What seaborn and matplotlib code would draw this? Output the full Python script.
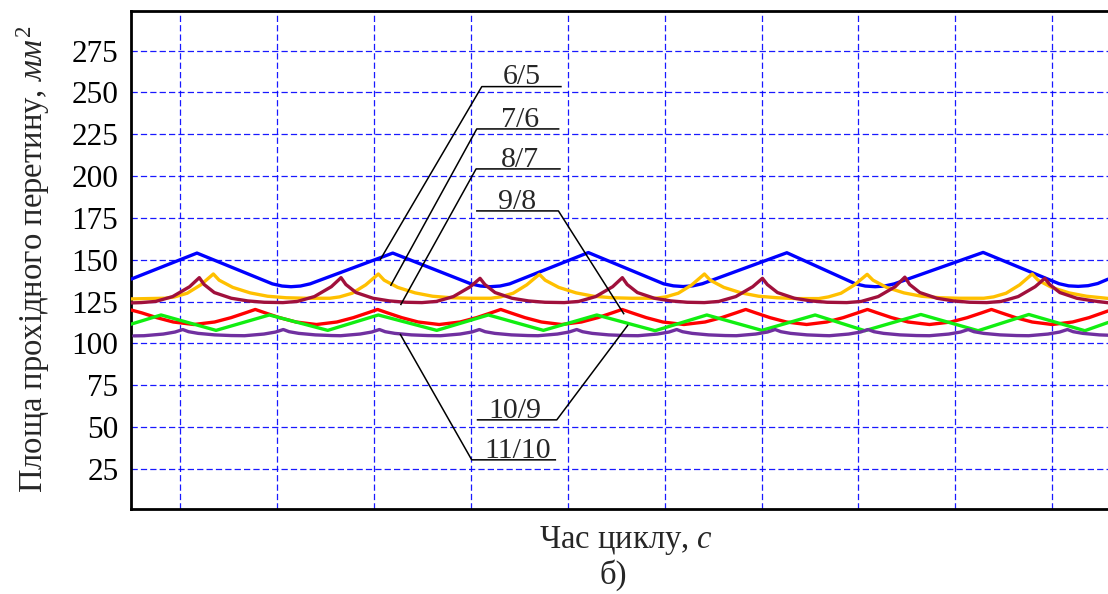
import matplotlib
matplotlib.use("Agg")
import matplotlib.pyplot as plt
import seaborn as sns
import pandas as pd

# ---------------- data ----------------
series_names = ["6/5", "7/6", "8/7", "9/8", "10/9", "11/10"]
series_colors = ["#0000FF", "#FFC000", "#A0103C", "#FF0000", "#11EE11", "#7030A0"]

t_65 = [0.491, 1.172, 1.95, 2.05, 2.143, 2.24, 2.34, 3.193, 4.0, 4.1, 4.198, 4.3, 4.4,
        5.212, 5.99, 6.09, 6.191, 6.29, 6.39, 7.261, 7.97, 8.07, 8.173, 8.27, 8.37,
        9.287, 10.07, 10.17, 10.269, 10.37, 10.47, 10.576]
v_65 = [138.4, 154.0, 135.6, 134.3, 133.9, 134.3, 135.6, 154.0, 135.6, 134.3, 133.9, 134.3, 135.6,
        154.3, 135.6, 134.4, 134.0, 134.4, 135.7, 154.2, 135.6, 134.3, 133.9, 134.3, 135.6,
        154.4, 135.7, 134.4, 134.1, 134.5, 135.8, 138.4]

t_76 = [0.491, 0.841, 0.941, 1.071, 1.211, 1.341, 1.401, 1.541, 1.721, 1.901, 2.091, 2.291,
        2.544, 2.644, 2.774, 2.914, 3.044, 3.104, 3.244, 3.424, 3.604, 3.794, 3.994,
        4.206, 4.306, 4.436, 4.576, 4.706, 4.766, 4.906, 5.086, 5.266, 5.456, 5.656,
        5.910, 6.010, 6.140, 6.280, 6.410, 6.470, 6.610, 6.790, 6.970, 7.160, 7.360,
        7.590, 7.690, 7.820, 7.960, 8.090, 8.150, 8.290, 8.470, 8.650, 8.840, 9.040,
        9.294, 9.394, 9.524, 9.664, 9.794, 9.854, 9.994, 10.174, 10.354, 10.576]
v_76 = [126.6, 127.0, 127.8, 130.0, 135.0, 141.5, 137.8, 133.5, 130.2, 128.2, 127.3, 127.0,
        127.0, 127.8, 130.0, 135.0, 141.5, 137.8, 133.5, 130.2, 128.2, 127.3, 127.0,
        127.0, 127.8, 130.0, 135.0, 141.3, 137.8, 133.5, 130.2, 128.2, 127.3, 127.0,
        127.0, 127.8, 130.0, 135.0, 141.5, 137.8, 133.5, 130.2, 128.2, 127.3, 126.8,
        126.8, 127.8, 130.0, 135.0, 141.3, 137.8, 133.5, 130.2, 128.2, 127.3, 127.0,
        127.0, 127.8, 130.0, 135.0, 141.5, 137.8, 133.5, 130.2, 128.2, 126.9]

t_87 = [0.491, 0.596, 0.746, 0.921, 1.096, 1.196, 1.246, 1.351, 1.526, 1.696, 1.866, 2.059,
        2.209, 2.384, 2.559, 2.659, 2.709, 2.814, 2.989, 3.159, 3.329, 3.494,
        3.644, 3.819, 3.994, 4.094, 4.144, 4.249, 4.424, 4.594, 4.764, 4.963,
        5.113, 5.288, 5.463, 5.563, 5.613, 5.718, 5.893, 6.063, 6.233, 6.409,
        6.559, 6.734, 6.909, 7.009, 7.059, 7.164, 7.339, 7.509, 7.679, 7.879,
        8.029, 8.204, 8.379, 8.479, 8.529, 8.634, 8.809, 8.979, 9.149, 9.324,
        9.474, 9.649, 9.824, 9.924, 9.974, 10.079, 10.254, 10.424, 10.576]
v_87 = [124.2, 124.4, 125.1, 128.0, 133.9, 139.3, 135.2, 130.4, 127.0, 125.4, 124.6, 124.4,
        125.1, 128.0, 133.9, 139.3, 135.2, 130.4, 127.0, 125.4, 124.6, 124.4,
        125.1, 128.0, 133.9, 138.9, 135.2, 130.4, 127.0, 125.4, 124.6, 124.4,
        125.1, 128.0, 133.9, 139.3, 135.2, 130.4, 127.0, 125.4, 124.6, 124.4,
        125.1, 128.0, 133.9, 138.9, 135.2, 130.4, 127.0, 125.4, 124.6, 124.4,
        125.1, 128.0, 133.9, 139.6, 135.2, 130.4, 127.0, 125.4, 124.6, 124.4,
        125.1, 128.0, 133.9, 138.9, 135.2, 130.4, 127.0, 125.4, 124.3]

t_98 = [0.491, 0.6, 0.757, 0.927, 1.14, 1.354, 1.524, 1.674, 1.774, 1.874, 2.024, 2.194, 2.405,
        2.616, 2.786, 2.936, 3.036, 3.136, 3.286, 3.456, 3.672, 3.888, 4.058, 4.208, 4.308,
        4.408, 4.558, 4.728, 4.934, 5.14, 5.31, 5.46, 5.560, 5.66, 5.81, 5.98, 6.198,
        6.417, 6.587, 6.737, 6.837, 6.937, 7.087, 7.257, 7.465, 7.673, 7.843, 7.993, 8.093,
        8.193, 8.343, 8.513, 8.733, 8.953, 9.123, 9.273, 9.373, 9.473, 9.623, 9.793, 10.0,
        10.21, 10.38, 10.576]
v_98 = [120.0, 118.3, 115.4, 112.8, 111.3, 112.8, 115.4, 118.3, 120.3, 118.3, 115.4, 112.8, 111.3,
        112.8, 115.4, 118.3, 120.3, 118.3, 115.4, 112.8, 111.3, 112.8, 115.4, 118.3, 120.3,
        118.3, 115.4, 112.8, 111.3, 112.8, 115.4, 118.3, 120.3, 118.3, 115.4, 112.8, 111.3,
        112.8, 115.4, 118.3, 120.3, 118.3, 115.4, 112.8, 111.3, 112.8, 115.4, 118.3, 120.3,
        118.3, 115.4, 112.8, 111.3, 112.8, 115.4, 118.3, 120.3, 118.3, 115.4, 112.8, 111.3,
        112.8, 115.4, 119.4]

t_109 = [0.491, 0.801, 1.369, 1.919, 2.522, 3.044, 3.647, 4.180, 4.748, 5.299, 5.901,
         6.435, 7.003, 7.553, 8.066, 8.644, 9.235, 9.759, 10.337, 10.576]
v_109 = [111.5, 117.0, 107.8, 117.0, 107.8, 117.0, 107.8, 117.0, 107.8, 117.0, 107.6,
         117.0, 107.8, 117.0, 107.6, 117.3, 107.6, 117.3, 107.6, 112.5]

t_1110 = [0.52, 0.625, 0.825, 0.945, 1.025, 1.085, 1.185, 1.355, 1.525,
          1.663, 1.863, 1.983, 2.063, 2.123, 2.223, 2.393, 2.563,
          2.655, 2.855, 2.975, 3.055, 3.115, 3.215, 3.385, 3.555,
          3.687, 3.887, 4.007, 4.087, 4.147, 4.247, 4.417, 4.587,
          4.692, 4.892, 5.012, 5.092, 5.152, 5.252, 5.422, 5.592,
          5.724, 5.924, 6.044, 6.124, 6.184, 6.284, 6.454, 6.624,
          6.740, 6.940, 7.060, 7.140, 7.200, 7.300, 7.470, 7.640,
          7.700, 7.900, 8.020, 8.100, 8.160, 8.260, 8.430, 8.600,
          8.733, 8.933, 9.053, 9.133, 9.193, 9.293, 9.463, 9.633,
          9.757, 9.957, 10.077, 10.157, 10.217, 10.317, 10.487, 10.576]
v_1110 = [104.5, 104.6, 105.6, 106.8, 108.3, 107.0, 106.0, 105.1, 104.7,
          104.6, 105.6, 106.8, 108.3, 107.0, 106.0, 105.1, 104.7,
          104.6, 105.6, 106.8, 108.3, 107.0, 106.0, 105.1, 104.7,
          104.6, 105.6, 106.8, 108.3, 107.0, 106.0, 105.1, 104.7,
          104.6, 105.6, 106.8, 108.3, 107.0, 106.0, 105.1, 104.7,
          104.6, 105.6, 106.8, 108.3, 107.0, 106.0, 105.1, 104.7,
          104.6, 105.6, 106.8, 108.3, 107.0, 106.0, 105.1, 104.7,
          104.6, 105.6, 106.8, 108.3, 107.0, 106.0, 105.1, 104.7,
          104.6, 105.6, 106.8, 108.3, 107.0, 106.0, 105.1, 104.7,
          104.6, 105.6, 106.8, 108.3, 107.0, 106.0, 105.1, 104.9]

y_ticks = [25, 50, 75, 100, 125, 150, 175, 200, 225, 250, 275]
x_grid = [1, 2, 3, 4, 5, 6, 7, 8, 9, 10]

y_label = "Площа прохідного перетину, $\\mathit{мм}^2$"
x_label = "Час циклу, $\\mathit{с}$"
sub_caption = "б)"

# ---------------- style ----------------
sns.set_theme(style="white")
plt.rcParams["font.family"] = ["Liberation Serif", "DejaVu Serif"]
plt.rcParams["mathtext.fontset"] = "custom"
plt.rcParams["mathtext.rm"] = "Liberation Serif"
plt.rcParams["mathtext.it"] = "Liberation Serif:italic"

all_t = [t_65, t_76, t_87, t_98, t_109, t_1110]
all_v = [v_65, v_76, v_87, v_98, v_109, v_1110]
frames = []
for name, tt, vv in zip(series_names, all_t, all_v):
    frames.append(pd.DataFrame({"t": tt, "v": vv, "series": name}))
df = pd.concat(frames, ignore_index=True)

fig = plt.figure(figsize=(11.08, 5.94), dpi=100)
ax = fig.add_axes([131 / 1108, 85.3 / 594, 977 / 1108, 497.7 / 594])

sns.lineplot(data=df, x="t", y="v", hue="series", hue_order=series_names,
             palette=dict(zip(series_names, series_colors)), sort=False,
             estimator=None, legend=False, linewidth=2.4, ax=ax, zorder=3)

ax.set_xlim(0.491, 10.576)
ax.set_ylim(1.2, 298.7)
ax.set_xticks(x_grid)
ax.set_xticklabels([])
ax.set_yticks(y_ticks)
ax.set_yticklabels([str(v) for v in y_ticks])
ax.tick_params(axis="both", length=0, pad=9, labelsize=22.5, colors="black")
ax.grid(True, color="#0000FF", linestyle=(0, (5, 2.5)), linewidth=0.9, alpha=0.9)
ax.set_axisbelow(True)

for side in ["left", "bottom", "top"]:
    ax.spines[side].set_visible(True)
    ax.spines[side].set_color("black")
    ax.spines[side].set_linewidth(2.0)
ax.spines["right"].set_visible(False)

ax.set_ylabel(y_label, fontsize=23.5, labelpad=14)
ax.set_xlabel(x_label, fontsize=23.5)
ax.xaxis.set_label_coords(0.5066, -0.030)
fig.text(613 / 1108, 1 - 575 / 594, sub_caption, ha="center", va="center", fontsize=23.5)

# ---------------- callout labels ----------------
callouts = [
    # label, text x, underline y, underline x0, x1, leader end (x, y), leader from left end?
    ("6/5", 4.525, 253.5, 4.112, 4.937, (3.062, 149.9), True),
    ("7/6", 4.507, 228.2, 4.060, 4.913, (3.170, 134.4), True),
    ("8/7", 4.507, 204.3, 4.053, 4.927, (3.273, 122.9), True),
    ("9/8", 4.473, 179.2, 4.053, 4.903, (5.581, 117.4), False),
    ("10/9", 4.456, 54.3, 4.060, 4.886, (5.622, 111.1), False),
    ("11/10", 4.479, 30.4, 4.008, 4.879, (3.268, 105.7), True),
]
for lab, tx, uy, x0, x1, end, left in callouts:
    if left:
        xs = [end[0], x0, x1]
        ys = [end[1], uy, uy]
    else:
        xs = [x0, x1, end[0]]
        ys = [uy, uy, end[1]]
    ax.plot(xs, ys, color="black", linewidth=1.1, zorder=4, solid_capstyle="butt")
    ax.text(tx, uy + 1.4, lab, ha="center", va="baseline", fontsize=21.5, zorder=5)

fig.savefig("out.png", dpi=100)
